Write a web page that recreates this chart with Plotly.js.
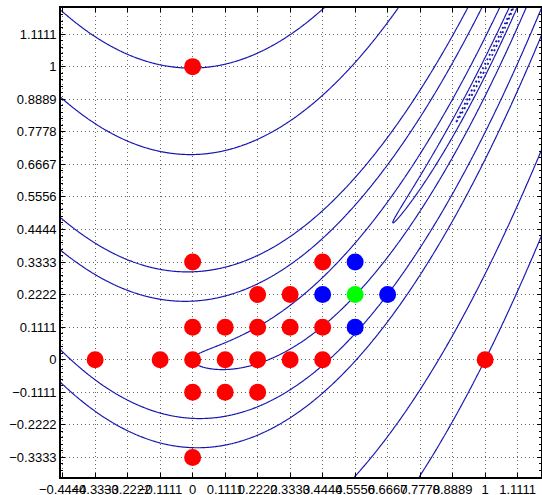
<!DOCTYPE html>
<html>
<head>
<meta charset="utf-8">
<script src="https://cdn.plot.ly/plotly-3.0.1.min.js"></script>
<style>html,body{margin:0;padding:0;background:#fff;}#chart{width:542px;height:495px;}</style>
</head>
<body>
<div id="chart"></div>
<script>
// Contour levels of the Rosenbrock surface f = 100(y - x^2)^2 + (1 - x)^2
const contourLevels = [0.01, 0.1, 1, 5, 10, 50, 100];

// Tick values and labels (MATLAB style, steps of 1/9)
const tickIndex = [-4, -3, -2, -1, 0, 1, 2, 3, 4, 5, 6, 7, 8, 9, 10];
const xTickLabels = ["\u22120.4444", "\u22120.3333", "\u22120.2222", "\u22120.1111", "0", "0.1111", "0.2222", "0.3333", "0.4444", "0.5556", "0.6667", "0.7778", "0.8889", "1", "1.1111"];
const yTickIndex = [-3, -2, -1, 0, 1, 2, 3, 4, 5, 6, 7, 8, 9, 10];
const yTickLabels = ["\u22120.3333", "\u22120.2222", "\u22120.1111", "0", "0.1111", "0.2222", "0.3333", "0.4444", "0.5556", "0.6667", "0.7778", "0.8889", "1", "1.1111"];

// Points (grid units of 1/9)
const redX = [0, 0, 4, 2, 3, 0, 1, 2, 3, 4, -3, -1, 0, 1, 2, 3, 4, 9, 0, 1, 2, 0];
const redY = [9, 3, 3, 2, 2, 1, 1, 1, 1, 1, 0, 0, 0, 0, 0, 0, 0, 0, -1, -1, -1, -3];
const blueX = [5, 4, 6, 5];
const blueY = [3, 2, 2, 1];
const greenX = [5];
const greenY = [2];

const h = 1 / 9;
const sc = a => a.map(v => v * h);

// Surface grid
const step = 0.0025;
const gx = [], gy = [];
for (let x = -0.46; x <= 1.21; x += step) gx.push(x);
for (let y = -0.41; y <= 1.22; y += step) gy.push(y);
const z = gy.map(y => gx.map(x => 100 * Math.pow(y - x * x, 2) + Math.pow(1 - x, 2)));

const lineColor = 'rgb(22,22,175)';
const traces = contourLevels.map(L => ({
  type: 'contour', x: gx, y: gy, z: z,
  autocontour: false, showscale: false, hoverinfo: 'skip',
  contours: {start: L, end: L, size: 1, coloring: 'lines', showlabels: false},
  colorscale: [[0, lineColor], [1, lineColor]],
  line: {width: L === 0.01 ? 1.8 : 1.2, color: lineColor, dash: L === 0.01 ? '2px,3px' : 'solid', smoothing: 0}
}));

function pts(xs, ys, color) {
  return {type: 'scatter', mode: 'markers', x: sc(xs), y: sc(ys), hoverinfo: 'skip',
    marker: {size: 17, color: color, line: {width: 0}}};
}
traces.push(pts(redX, redY, '#ff0000'));
traces.push(pts(blueX, blueY, '#0000ff'));
traces.push(pts(greenX, greenY, '#00ff00'));

const font = {family: 'Liberation Sans, Arial, sans-serif', size: 13, color: '#000'};
const axisCommon = {
  showline: true, linecolor: '#000', linewidth: 1.8, mirror: 'ticks',
  ticks: 'inside', ticklen: 4, tickwidth: 1, tickcolor: '#000',
  showgrid: true, gridcolor: '#666', griddash: '1px,3px', gridwidth: 1,
  zeroline: false, tickmode: 'array', tickfont: font, tickangle: 0
};

const layout = {
  width: 542, height: 495,
  margin: {l: 61, r: 1, t: 8, b: 18, pad: 0},
  paper_bgcolor: '#fff', plot_bgcolor: '#fff',
  showlegend: false, hovermode: false,
  xaxis: Object.assign({}, axisCommon, {
    range: [-0.45, 1.191], tickvals: sc(tickIndex), ticktext: xTickLabels
  }),
  yaxis: Object.assign({}, axisCommon, {
    range: [-0.4, 1.2], tickvals: sc(yTickIndex), ticktext: yTickLabels,
    minor: {tickmode: 'linear', tick0: 0, dtick: h / 5, ticks: 'inside', ticklen: 2, tickcolor: '#000', showgrid: false}
  })
};

Plotly.newPlot('chart', traces, layout, {displayModeBar: false, staticPlot: true});
</script>
</body>
</html>
